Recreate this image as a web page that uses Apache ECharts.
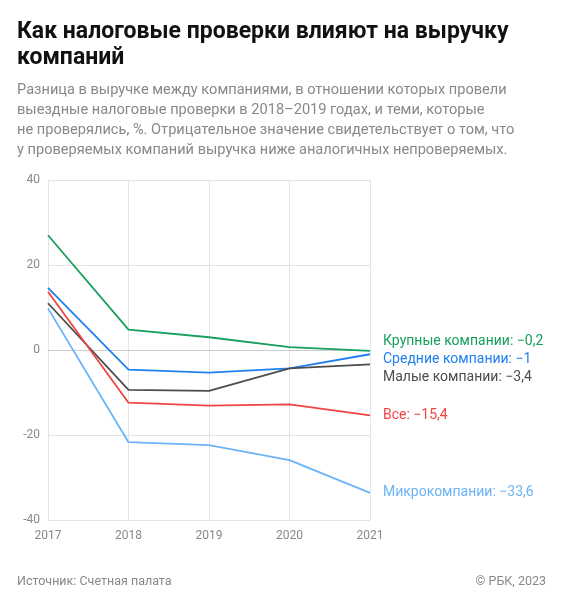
<!DOCTYPE html>
<html><head><meta charset="utf-8">
<script src="https://cdn.jsdelivr.net/npm/echarts@6/dist/echarts.min.js"></script>
<style>body{margin:0}#c{width:569px;height:600px}</style></head>
<body><div id="c"></div>
<script>
const years = ['2017','2018','2019','2020','2021'];
const big = [27, 4.8, 3, 0.7, -0.2];
const mid = [14.6, -4.6, -5.3, -4.3, -1];
const small = [11, -9.4, -9.6, -4.3, -3.4];
const all = [13.7, -12.4, -13.1, -12.8, -15.4];
const micro = [9.8, -21.7, -22.4, -25.9, -33.6];
const names = ['Крупные компании: −0,2','Средние компании: −1','Малые компании: −3,4','Все: −15,4','Микрокомпании: −33,6'];
const colors = ['#17a05d','#1f80f0','#4d4d4d','#f04444','#6cb4f6'];
const offs = [[5,-9],[5,5],[5,13],[5,0],[5,0]];
const sets = [big, mid, small, all, micro];
const chart = echarts.init(document.getElementById('c'));
chart.setOption({
  animation:false,
  textStyle:{fontFamily:'Roboto'},
  title:[
    {text:'Как налоговые проверки влияют на выручку\nкомпаний',left:12,top:14,textStyle:{fontSize:23,fontWeight:'bold',color:'#111',lineHeight:26}},
    {text:'Разница в выручке между компаниями, в отношении которых провели\nвыездные налоговые проверки в 2018–2019 годах, и теми, которые\nне проверялись, %. Отрицательное значение свидетельствует о том, что\nу проверяемых компаний выручка ниже аналогичных непроверяемых.',left:12,top:75,textStyle:{fontSize:14.6,fontWeight:'normal',color:'#888',lineHeight:20}},
    {text:'Источник: Счетная палата',left:12,top:570,textStyle:{fontSize:12.5,fontWeight:'normal',color:'#888'}},
    {text:'© РБК, 2023',right:18,top:570,textStyle:{fontSize:12.5,fontWeight:'normal',color:'#888'}}
  ],
  grid:{left:48,right:199,top:180,bottom:80},
  xAxis:{type:'category',data:years,boundaryGap:false,
    axisLine:{lineStyle:{color:'#ccc'}},axisTick:{show:false},
    axisLabel:{color:'#888',fontSize:12,margin:10},
    splitLine:{show:true,lineStyle:{color:'#e4e4e4'}}},
  yAxis:{type:'value',min:-40,max:40,interval:20,
    axisLabel:{color:'#888',fontSize:12,margin:8},
    splitLine:{lineStyle:{color:'#e4e4e4'}}},
  series:sets.map((d,i)=>({type:'line',data:d,symbol:'none',
    lineStyle:{color:colors[i],width:1.8},itemStyle:{color:colors[i]},
    endLabel:{show:true,formatter:names[i],color:colors[i],fontSize:14,offset:offs[i]}}))
});
</script></body></html>
